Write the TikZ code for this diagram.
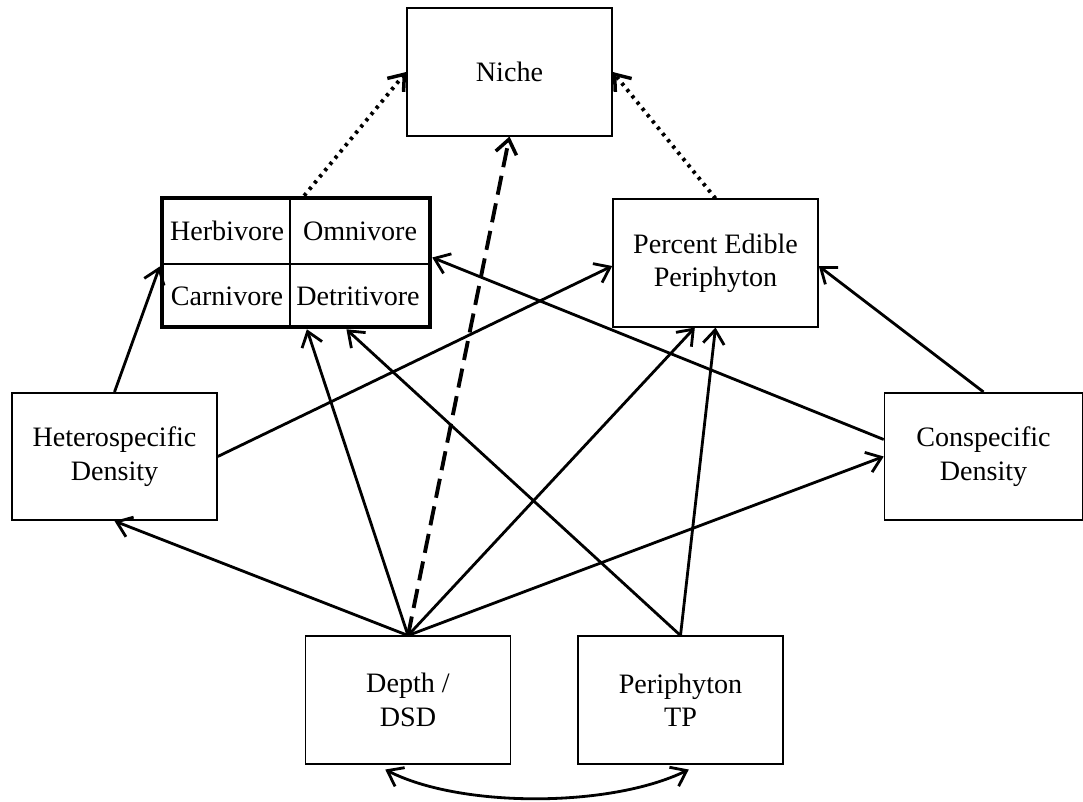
\documentclass[tikz,border=0pt]{standalone}
\usepackage{fontspec}
\setmainfont{Liberation Serif}
\usetikzlibrary{arrows.meta,calc}
\begin{document}
\begin{tikzpicture}[x=0.02cm,y=-0.02cm,
  font=\fontsize{16}{19}\selectfont,
  box/.style={draw,line width=0.9pt,minimum width=4.1cm,minimum height=2.55cm,align=center,inner sep=0pt},
  cell/.style={inner sep=0pt,anchor=center},
  tip/.style={-{Straight Barb[length=8pt,width=12pt,line width=1.6pt]}},
  arr/.style={line width=1.6pt,tip},
  dotarr/.style={line width=2.2pt,dash pattern=on 1.8pt off 2.8pt,-{Straight Barb[length=8pt,width=12pt,line width=2pt,sep=0pt]}},
  dasharr/.style={line width=2.2pt,dash pattern=on 11pt off 5pt,-{Straight Barb[length=8pt,width=12pt,line width=2pt]}},
  dblarr/.style={line width=1.6pt,{Straight Barb[length=8pt,width=12pt,line width=1.6pt]}-{Straight Barb[length=8pt,width=12pt,line width=1.6pt]}}
]
\useasboundingbox (0,0) rectangle (1083,802);
\fill[white] (0,0) rectangle (1083,802);

\node[box] (niche) at (509.5,72) {Niche};
\node[box] (ped) at (715.5,263) {Percent Edible\\Periphyton};
\node[box] (het) at (114.5,456.5) {Heterospecific\\Density};
\node[box,minimum width=3.96cm] (con) at (983.5,456.5) {Conspecific\\Density};
\node[box] (depth) at (408,700) {Depth /\\DSD};
\node[box] (tp) at (680.5,700) {Periphyton\\TP};

\node[draw,line width=2.6pt,minimum width=5.36cm,minimum height=2.58cm,inner sep=0pt] (feed) at (296,262.5) {};
\coordinate (vt) at (290,198);
\coordinate (vb) at (290,327);
\coordinate (hl) at (162,264);
\coordinate (hr) at (430,264);
\draw[line width=1.3pt] (vt) -- (vb);
\draw[line width=1.3pt] (hl) -- (hr);
\node[cell] (herb) at (227,231) {Herbivore};
\node[cell] (omni) at (360,231) {Omnivore};
\node[cell] (carn) at (227,296) {Carnivore};
\node[cell] (detr) at (358,296) {Detritivore};

% dotted to niche
\draw[dotarr] ($(feed.north west)!0.53!(feed.north east)$) -- (niche.west);
\draw[dotarr] (ped.north) -- (niche.east);
% dashed
\draw[dasharr] (depth.north) -- (niche.south);

% het
\draw[arr] (het.north) -- ([yshift=-0.08cm]feed.west);
\draw[arr] (het.east) -- ([yshift=-0.06cm]ped.west);
% con
\draw[arr] ([yshift=0.34cm]con.west) -- ([yshift=0.1cm]feed.east);
\draw[arr] (con.north) -- ([yshift=-0.06cm]ped.east);
% depth
\draw[arr] (depth.north) -- (het.south);
\draw[arr] (depth.north) -- ($(feed.south west)!0.54!(feed.south east)$);
\draw[arr] (depth.north) -- ($(ped.south west)!0.4!(ped.south east)$);
\draw[arr] (depth.north) -- (con.west);
% tp
\draw[arr] (tp.north) -- ($(feed.south west)!0.685!(feed.south east)$);
\draw[arr] (tp.north) -- ($(ped.south west)!0.5!(ped.south east)$);

% curved double arrow
\coordinate (cl) at ($(depth.south west)!0.39!(depth.south east)+(0,5)$);
\coordinate (cr) at ($(tp.south west)!0.54!(tp.south east)+(0,5)$);
\draw[dblarr] (cl) .. controls (460,808) and (610,808) .. (cr);
\end{tikzpicture}
\end{document}
